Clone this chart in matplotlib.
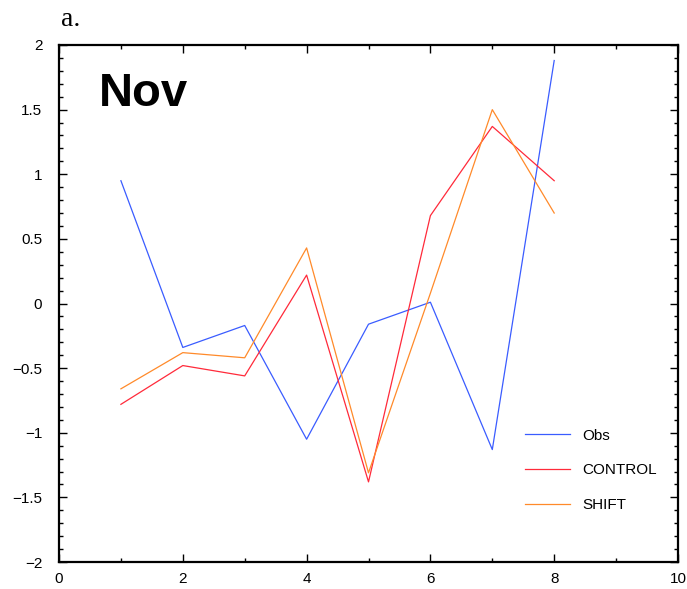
"""Nov panel: observed vs CONTROL and SHIFT runs."""

import matplotlib

matplotlib.use("Agg")
import matplotlib.pyplot as plt
from matplotlib.ticker import MultipleLocator

months = [1, 2, 3, 4, 5, 6, 7, 8]
obs = [0.95, -0.34, -0.17, -1.05, -0.16, 0.01, -1.13, 1.88]
control = [-0.78, -0.48, -0.56, 0.22, -1.38, 0.68, 1.37, 0.95]
shift = [-0.66, -0.38, -0.42, 0.43, -1.31, 0.08, 1.50, 0.70]

plt.rcParams["font.family"] = ["Liberation Sans", "DejaVu Sans"]

fig = plt.figure(figsize=(6.87, 5.89), dpi=100)
ax = fig.add_axes([0.0859, 0.0458, 0.9010, 0.8778])

ax.plot(months, obs, color="#3a5cff", linewidth=0.9, label="Obs")
ax.plot(months, control, color="#ff2a3a", linewidth=0.9, label="CONTROL")
ax.plot(months, shift, color="#ff8a2a", linewidth=0.9, label="SHIFT")

ax.set_xlim(0, 10)
ax.set_ylim(-2, 2)
ax.xaxis.set_major_locator(MultipleLocator(2))
ax.xaxis.set_minor_locator(MultipleLocator(1))
ax.yaxis.set_minor_locator(MultipleLocator(0.1))
ax.set_yticks([-2, -1.5, -1, -0.5, 0, 0.5, 1, 1.5, 2])
ax.set_yticklabels(["\u22122", "\u22121.5", "\u22121", "\u22120.5", "0", "0.5", "1", "1.5", "2"])
ax.tick_params(which="both", direction="in", top=True, right=True, labelsize=11, width=1)
ax.tick_params(which="major", length=6)
ax.tick_params(which="minor", length=3)
ax.tick_params(axis="y", which="major", pad=12)
ax.tick_params(axis="x", which="major", pad=7)
for s in ax.spines.values():
    s.set_linewidth(1.6)

ax.text(0.065, 0.905, "Nov", transform=ax.transAxes, fontsize=34, fontweight="bold",
        va="center", ha="left")
fig.text(61 / 687, 1 - 20 / 589, "a.", fontsize=20, family=["Liberation Serif"],
         va="center", ha="left")

ax.legend(loc="lower left", bbox_to_anchor=(0.73, 0.07), frameon=False, fontsize=11,
          handlelength=3.0, handletextpad=0.8, labelspacing=1.35)

fig.savefig("out.png", dpi=100)
